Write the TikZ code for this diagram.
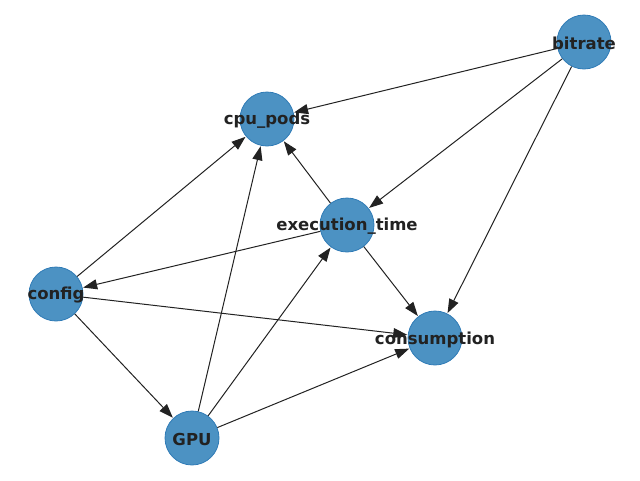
\documentclass[tikz,border=0pt]{standalone}
\usepackage{fontspec}
\setmainfont{DejaVu Sans}
\usetikzlibrary{arrows.meta}
\definecolor{nodefill}{HTML}{4C92C3}
\definecolor{nodeedge}{HTML}{2F7BB6}
\definecolor{ink}{HTML}{222222}
\begin{document}
\begin{tikzpicture}[x=1pt,y=-1pt,
  vertex/.style={circle,fill=nodefill,draw=nodeedge,line width=0.8pt,minimum size=54pt,inner sep=0pt},
  lbl/.style={text=ink,font=\fontsize{16.5}{18}\selectfont\bfseries,inner sep=0pt,yshift=-1.5pt},
  edge/.style={draw=ink,line width=1pt,-{Triangle[length=14pt,width=10pt]},shorten >=0.5pt}]
\useasboundingbox (0,0) rectangle (640,480);
\node[vertex] (bitrate) at (584,42) {};
\node[vertex] (cpu) at (267,119) {};
\node[vertex] (exec) at (347,225) {};
\node[vertex] (config) at (56,294) {};
\node[vertex] (cons) at (435,338) {};
\node[vertex] (gpu) at (192,438) {};
\path[edge] (bitrate) -- (cpu);
\path[edge] (bitrate) -- (exec);
\path[edge] (bitrate) -- (cons);
\path[edge] (exec) -- (cpu);
\path[edge] (exec) -- (config);
\path[edge] (exec) -- (cons);
\path[edge] (config) -- (cpu);
\path[edge] (config) -- (cons);
\path[edge] (config) -- (gpu);
\path[edge] (gpu) -- (cpu);
\path[edge] (gpu) -- (exec);
\path[edge] (gpu) -- (cons);
\node[lbl] at (bitrate) {bitrate};
\node[lbl] at (cpu) {cpu\_pods};
\node[lbl] at (exec) {execution\_time};
\node[lbl] at (config) {config};
\node[lbl] at (cons) {consumption};
\node[lbl] at (gpu) {GPU};
\end{tikzpicture}
\end{document}
